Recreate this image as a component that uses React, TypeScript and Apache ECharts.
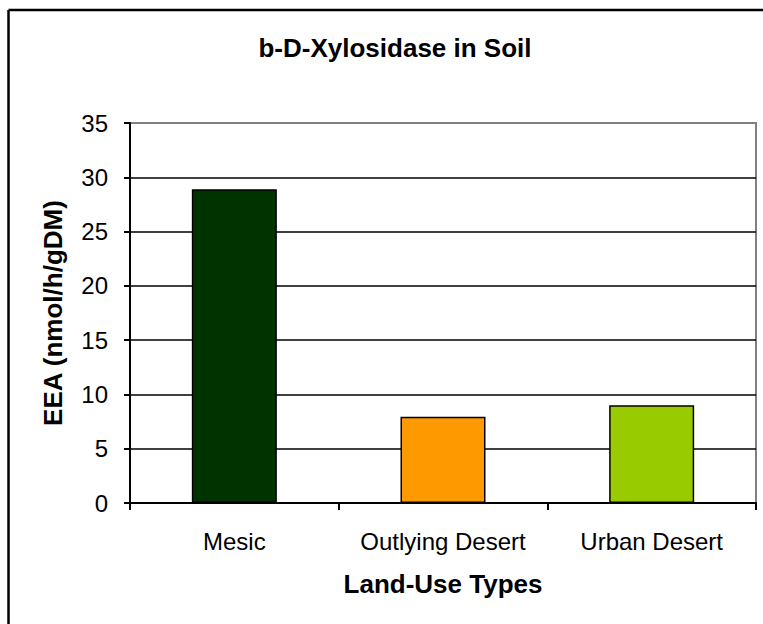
import React, { useEffect, useRef } from "react";
import * as echarts from "echarts";

const categories = ["Mesic", "Outlying Desert", "Urban Desert"];
const values = [28.9, 7.95, 9.0];
const barColors = ["#003300", "#FF9900", "#99CC00"];
const yTicks = { min: 0, max: 35, interval: 5 };

const FONT = "'Liberation Sans', Arial, sans-serif";

export default function App() {
  const ref = useRef<HTMLDivElement>(null);
  useEffect(() => {
    if (!ref.current) return;
    const chart = echarts.init(ref.current, undefined, { renderer: "svg" });
    chart.setOption({
      animation: false,
      backgroundColor: "#ffffff",
      title: {
        text: "b-D-Xylosidase in Soil",
        left: 390,
        top: 30,
        textAlign: "center",
        textStyle: { fontFamily: FONT, fontSize: 26, fontWeight: "bold", color: "#000" },
      },
      graphic: [
        {
          type: "rect",
          shape: { x: 758, y: 12, width: 10, height: 620 },
          style: { fill: "#ffffff", stroke: "none" },
          z: 90,
        },
        {
          type: "line",
          shape: { x1: 8.5, y1: 10, x2: 763, y2: 10 },
          style: { stroke: "#000", lineWidth: 2.5 },
          z: 100,
        },
        {
          type: "line",
          shape: { x1: 8.5, y1: 10, x2: 8.5, y2: 624 },
          style: { stroke: "#000", lineWidth: 2.5 },
          z: 100,
        },
      ],
      grid: {
        left: 130,
        right: 7,
        top: 123,
        bottom: 121,
        show: true,
        borderColor: "#808080",
        borderWidth: 2,
        backgroundColor: "#ffffff",
      },
      xAxis: {
        type: "category",
        data: categories,
        name: "Land-Use Types",
        nameLocation: "middle",
        nameGap: 68,
        nameTextStyle: { fontFamily: FONT, fontSize: 26, fontWeight: "bold", color: "#000" },
        axisLine: { lineStyle: { color: "#000", width: 2 } },
        axisTick: { show: true, length: 7, lineStyle: { color: "#000", width: 2 } },
        axisLabel: { fontFamily: FONT, fontSize: 24, color: "#000", margin: 26, interval: 0 },
      },
      yAxis: {
        type: "value",
        min: yTicks.min,
        max: yTicks.max,
        interval: yTicks.interval,
        name: "EEA (nmol/h/gDM)",
        nameLocation: "middle",
        nameGap: 64,
        nameTextStyle: { fontFamily: FONT, fontSize: 26, fontWeight: "bold", color: "#000" },
        axisLine: { show: true, lineStyle: { color: "#000", width: 2 } },
        axisTick: { show: true, length: 6, lineStyle: { color: "#000", width: 2 } },
        axisLabel: { fontFamily: FONT, fontSize: 24, color: "#000", margin: 22 },
        splitLine: { show: true, showMaxLine: false, lineStyle: { color: "#000", width: 1.5 } },
      },
      series: [
        {
          type: "bar",
          barWidth: 85,
          data: values.map((v, i) => ({
            value: v,
            itemStyle: { color: barColors[i], borderColor: "#000", borderWidth: 1.5 },
          })),
        },
      ],
    });
    return () => chart.dispose();
  }, []);
  return (
    <div
      ref={ref}
      style={{ position: "fixed", left: 0, top: 0, width: 763, height: 624 }}
    />
  );
}
